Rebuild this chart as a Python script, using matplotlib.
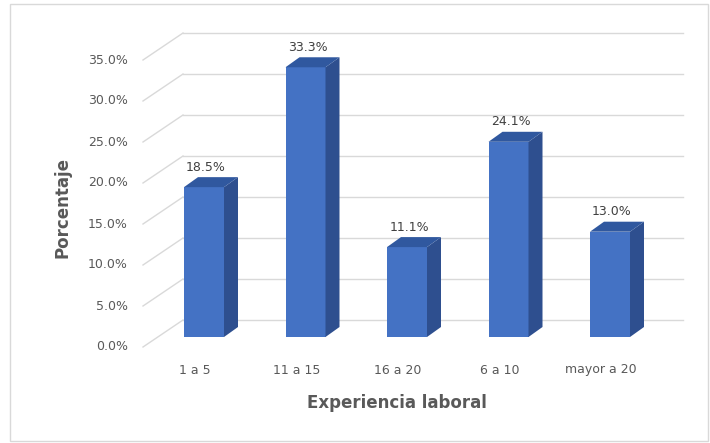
import matplotlib.pyplot as plt
from matplotlib.patches import Polygon, Rectangle

# data
categorias = ['1 a 5', '11 a 15', '16 a 20', '6 a 10', 'mayor a 20']
porcentajes = [18.5, 33.3, 11.1, 24.1, 13.0]
ticks = [0, 5, 10, 15, 20, 25, 30, 35]

# pseudo-3D geometry (data units: x = category, y = percent)
px_x = 101.5          # pixels per category
px_y = 8.1            # pixels per percent
bar_w = 40 / px_x
dep_x = 14 / px_x     # bar depth shift
dep_y = 10 / px_y
wall_dy = 17 / px_y   # back wall raised above the bar floor
front_dy = -10 / px_y
grid_scale = 8.2 / px_y
wall_x0 = (183 - 204) / px_x
wall_x1 = (683 - 204) / px_x
front_x = (143 - 204) / px_x

fig = plt.figure(figsize=(7.1, 4.43), dpi=100)
ax = fig.add_axes([0, 0, 1, 1])
ax.set_xlim(-204 / px_x, (710 - 204) / px_x)
ax.set_ylim((337 - 443) / px_y, 337 / px_y)
ax.axis('off')

# chart frame
fig.patches.append(Rectangle((10 / 710, 2 / 443), 698 / 710, 437 / 443,
                             transform=fig.transFigure, fill=False,
                             edgecolor='#d9d9d9', lw=1))

# gridlines: slanted floor part + back wall part
for t in ticks:
    yb = wall_dy + t * grid_scale
    yf = front_dy + t * grid_scale
    ax.plot([front_x, wall_x0], [yf, yb], color='#d9d9d9', lw=1, zorder=1)
    ax.plot([wall_x0, wall_x1], [yb, yb], color='#d9d9d9', lw=1, zorder=1)
    ax.text(front_x - 15 / px_x, yf, f'{t:.1f}%', ha='right', va='center',
            fontsize=9, color='#595959')

x = list(range(len(categorias)))
ax.bar(x, porcentajes, width=bar_w, color='#4472C4', zorder=3)

for xi, v in zip(x, porcentajes):
    left = xi - bar_w / 2
    right = xi + bar_w / 2
    side = Polygon([(right, 0), (right + dep_x, dep_y), (right + dep_x, v + dep_y), (right, v)],
                   closed=True, facecolor='#2E4F8F', edgecolor='none', zorder=3)
    top = Polygon([(left, v), (right, v), (right + dep_x, v + dep_y), (left + dep_x, v + dep_y)],
                  closed=True, facecolor='#30589F', edgecolor='none', zorder=3)
    ax.add_patch(side)
    ax.add_patch(top)
    ax.text(xi + 2 / px_x, v + dep_y + 10 / px_y, f'{v:.1f}%', ha='center', va='center',
            fontsize=9, color='#404040', zorder=4)

for xi, c in zip(x, categorias):
    ax.text(xi - 9 / px_x, (337 - 370) / px_y, c, ha='center', va='center',
            fontsize=9, color='#595959')

ax.text((397 - 204) / px_x, (337 - 403) / px_y, 'Experiencia laboral', ha='center',
        va='center', fontsize=12, fontweight='bold', color='#595959')
ax.text((62 - 204) / px_x, (337 - 207) / px_y, 'Porcentaje', ha='center',
        va='center', fontsize=12, fontweight='bold', color='#595959', rotation=90)

fig.savefig('out.png', dpi=100)
